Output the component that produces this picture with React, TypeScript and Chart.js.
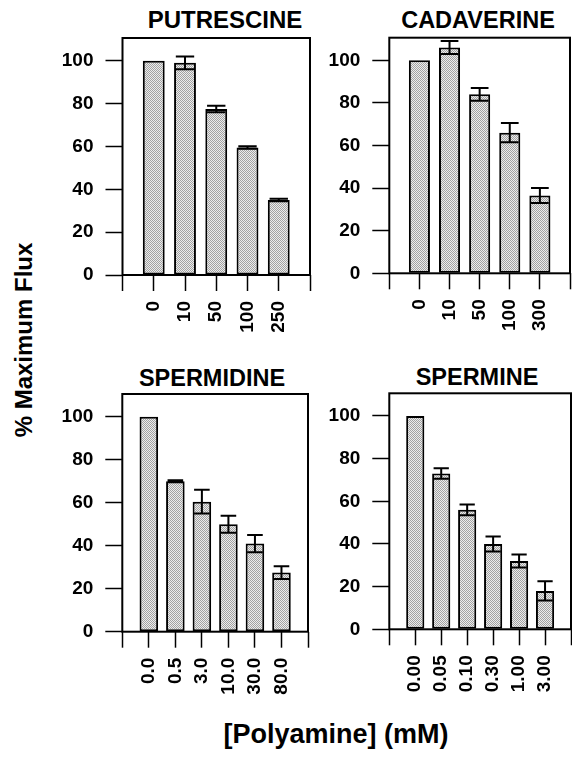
import React, { useEffect, useRef } from 'react';
import { Chart, registerables } from 'chart.js';

Chart.register(...registerables);

// ---------- data ----------
const putrescineLabels = ['0', '10', '50', '100', '250'];
const putrescineValues = [100, 99, 77.5, 59.5, 35];
const putrescineErrors = [0, 3, 1.5, 0.6, 0.6];

const cadaverineLabels = ['0', '10', '50', '100', '300'];
const cadaverineValues = [100, 106, 84, 66, 36.5];
const cadaverineErrors = [0, 3, 3, 4.5, 3.5];

const spermidineLabels = ['0.0', '0.5', '3.0', '10.0', '30.0', '80.0'];
const spermidineValues = [100, 70, 60.5, 50, 41, 27.5];
const spermidineErrors = [0, 0.5, 5.5, 4, 4, 3];

const spermineLabels = ['0.00', '0.05', '0.10', '0.30', '1.00', '3.00'];
const spermineValues = [100, 73, 56, 40, 32, 18];
const spermineErrors = [0, 2.5, 2.5, 3.5, 3, 4.5];

const yTicks = [0, 20, 40, 60, 80, 100];
const yMax = 110.6;

const FONT = '"Liberation Sans", Arial, Helvetica, sans-serif';

type PanelProps = {
  left: number;
  top: number;
  width: number;
  height: number;
  padTop: number;
  padRight: number;
  yWidth: number;
  xHeight: number;
  labels: string[];
  values: number[];
  errors: number[];
};

function Panel(p: PanelProps) {
  const ref = useRef<HTMLCanvasElement | null>(null);
  useEffect(() => {
    const canvas = ref.current!;
    const ctx = canvas.getContext('2d')!;
    const tile = document.createElement('canvas');
    tile.width = 2;
    tile.height = 2;
    const tg = tile.getContext('2d')!;
    tg.fillStyle = '#ececec';
    tg.fillRect(0, 0, 2, 2);
    tg.fillStyle = '#a2a2a2';
    tg.fillRect(0, 0, 1, 1);
    tg.fillRect(1, 1, 1, 1);
    const pattern = ctx.createPattern(tile, 'repeat') || '#c4c4c4';

    const errorPlugin = {
      id: 'errs',
      afterDatasetsDraw(chart: any) {
        const meta = chart.getDatasetMeta(0);
        const ys = chart.scales.y;
        const c = chart.ctx;
        c.save();
        c.strokeStyle = '#000';
        c.lineWidth = 2;
        p.values.forEach((v, i) => {
          const e = p.errors[i];
          if (!e) return;
          const el = meta.data[i + 1];
          const x = el.x;
          const hw = el.width * 0.42;
          const yt = ys.getPixelForValue(v + e);
          const yb = ys.getPixelForValue(v - e);
          c.beginPath();
          c.moveTo(x, yt);
          c.lineTo(x, yb);
          c.moveTo(x - hw, yt);
          c.lineTo(x + hw, yt);
          c.moveTo(x - hw, yb);
          c.lineTo(x + hw, yb);
          c.stroke();
        });
        const a = chart.chartArea;
        c.lineWidth = 2;
        c.strokeRect(a.left, a.top, a.right - a.left, a.bottom - a.top);
        c.restore();
      },
    };

    const tickFont = { family: FONT, size: 19, weight: 'bold' as const };

    const chart = new Chart(ctx, {
      type: 'bar',
      data: {
        labels: ['', ...p.labels, ''],
        datasets: [
          {
            data: [null, ...p.values, null] as any,
            backgroundColor: pattern as any,
            borderColor: '#000',
            borderWidth: 2,
            borderSkipped: false,
            barPercentage: 0.7,
            categoryPercentage: 1,
          },
        ],
      },
      options: {
        responsive: false,
        animation: false,
        devicePixelRatio: 1,
        layout: { padding: { left: 0, top: p.padTop, right: p.padRight, bottom: 0 } },
        plugins: {
          legend: { display: false },
          tooltip: { enabled: false },
          title: { display: false },
        },
        scales: {
          x: {
            type: 'category',
            offset: false,
            grid: {
              display: true,
              offset: false,
              drawOnChartArea: false,
              drawTicks: true,
              tickLength: 16,
              tickWidth: 1.5,
              tickColor: '#000',
            },
            border: { display: false },
            ticks: {
              autoSkip: false,
              minRotation: 90,
              maxRotation: 90,
              padding: 10,
              color: '#000',
              font: tickFont,
            },
            afterFit: (s: any) => {
              s.height = p.xHeight;
              s.paddingLeft = 0;
              s.paddingRight = 0;
              s.paddingTop = 0;
              s.paddingBottom = 0;
            },
          },
          y: {
            min: 0,
            max: yMax,
            afterBuildTicks: (s: any) => {
              s.ticks = yTicks.map((v) => ({ value: v }));
            },
            grid: {
              display: true,
              drawOnChartArea: false,
              drawTicks: true,
              tickLength: 17,
              tickWidth: 1.5,
              tickColor: '#000',
            },
            border: { display: false },
            ticks: {
              padding: 12,
              color: '#000',
              font: tickFont,
            },
            afterFit: (s: any) => {
              s.width = p.yWidth;
              s.paddingLeft = 0;
              s.paddingRight = 0;
              s.paddingTop = 0;
              s.paddingBottom = 0;
            },
          },
        },
      },
      plugins: [errorPlugin],
    });
    return () => chart.destroy();
  }, []);
  return (
    <canvas
      ref={ref}
      width={p.width}
      height={p.height}
      style={{ position: 'absolute', left: p.left, top: p.top, width: p.width, height: p.height }}
    />
  );
}

function Text(props: {
  text: string;
  cx: number;
  baseline: number;
  size: number;
}) {
  const { text, cx, baseline, size } = props;
  return (
    <div
      style={{
        position: 'absolute',
        left: cx - 200,
        width: 400,
        top: baseline - 0.8465 * size,
        height: size,
        lineHeight: `${size}px`,
        fontSize: size,
        fontFamily: FONT,
        fontWeight: 'bold',
        textAlign: 'center',
        whiteSpace: 'nowrap',
        color: '#000',
      }}
    >
      {text}
    </div>
  );
}

export default function App() {
  return (
    <div
      style={{
        position: 'absolute',
        left: 0,
        top: 0,
        width: 572,
        height: 757,
        background: '#fff',
        overflow: 'hidden',
      }}
    >
      <Text text="PUTRESCINE" cx={225} baseline={28.5} size={24} />
      <Text text="CADAVERINE" cx={478} baseline={29} size={23.5} />
      <Text text="SPERMIDINE" cx={212} baseline={387} size={23.5} />
      <Text text="SPERMINE" cx={477} baseline={385.5} size={23.5} />

      <Panel
        left={40}
        top={32}
        width={276}
        height={330}
        padTop={6}
        padRight={6}
        yWidth={82.5}
        xHeight={87}
        labels={putrescineLabels}
        values={putrescineValues}
        errors={putrescineErrors}
      />
      <Panel
        left={318}
        top={32}
        width={254}
        height={330}
        padTop={5.7}
        padRight={2}
        yWidth={71.3}
        xHeight={88.7}
        labels={cadaverineLabels}
        values={cadaverineValues}
        errors={cadaverineErrors}
      />
      <Panel
        left={40}
        top={388}
        width={276}
        height={322}
        padTop={6}
        padRight={8}
        yWidth={82.3}
        xHeight={78.3}
        labels={spermidineLabels}
        values={spermidineValues}
        errors={spermidineErrors}
      />
      <Panel
        left={318}
        top={388}
        width={254}
        height={322}
        padTop={5.3}
        padRight={1}
        yWidth={71.3}
        xHeight={80.7}
        labels={spermineLabels}
        values={spermineValues}
        errors={spermineErrors}
      />

      <div
        style={{
          position: 'absolute',
          left: 23.5,
          top: 340,
          transform: 'translate(-50%, -50%) rotate(-90deg)',
          fontSize: 24,
          lineHeight: '24px',
          fontFamily: FONT,
          fontWeight: 'bold',
          whiteSpace: 'nowrap',
          color: '#000',
        }}
      >
        % Maximum Flux
      </div>
      <Text text="[Polyamine] (mM)" cx={336} baseline={744} size={27} />
    </div>
  );
}
